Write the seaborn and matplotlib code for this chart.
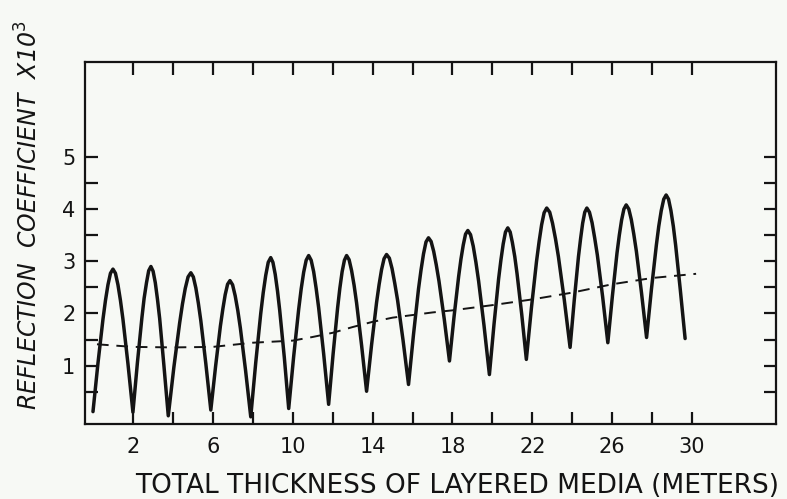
import matplotlib
matplotlib.use("Agg")
import matplotlib.pyplot as plt
import seaborn as sns
import pandas as pd

# Solid curve: reflection coefficient (x 10^3) vs total thickness (m)
thickness = [
    0.00, 0.25, 0.50, 0.625, 0.75, 0.875, 1.00, 1.125, 1.25, 1.375, 1.50, 1.75, 2.00,
    2.225, 2.45, 2.56, 2.68, 2.79, 2.90, 3.01, 3.12, 3.23, 3.34, 3.55, 3.77,
    4.05, 4.34, 4.48, 4.62, 4.76, 4.90, 5.025, 5.15, 5.275, 5.40, 5.65, 5.90,
    6.14, 6.38, 6.50, 6.62, 6.74, 6.86, 6.99, 7.12, 7.25, 7.38, 7.64, 7.90,
    8.15, 8.40, 8.525, 8.65, 8.775, 8.90, 9.01, 9.125, 9.24, 9.35, 9.58, 9.80,
    10.05, 10.30, 10.425, 10.55, 10.675, 10.80, 10.925, 11.05, 11.175, 11.30, 11.55, 11.80,
    12.025, 12.25, 12.36, 12.475, 12.59, 12.70, 12.825, 12.95, 13.075, 13.20, 13.45, 13.70,
    13.95, 14.20, 14.325, 14.45, 14.575, 14.70, 14.84, 14.975, 15.11, 15.25, 15.525, 15.80,
    16.05, 16.30, 16.425, 16.55, 16.675, 16.80, 16.93, 17.06, 17.19, 17.325, 17.59, 17.85,
    18.08, 18.31, 18.425, 18.54, 18.655, 18.77, 18.905, 19.04, 19.175, 19.31, 19.58, 19.85,
    20.08, 20.31, 20.425, 20.54, 20.655, 20.77, 20.89, 21.00, 21.12, 21.235, 21.47, 21.70,
    21.955, 22.21, 22.34, 22.465, 22.59, 22.72, 22.87, 23.01, 23.16, 23.305, 23.60, 23.89,
    24.10, 24.31, 24.415, 24.52, 24.625, 24.73, 24.86, 24.99, 25.12, 25.255, 25.52, 25.78,
    26.01, 26.24, 26.355, 26.47, 26.585, 26.70, 26.83, 26.955, 27.08, 27.21, 27.465, 27.72,
    27.965, 28.21, 28.33, 28.455, 28.58, 28.70, 28.82, 28.94, 29.06, 29.175, 29.41, 29.65]
reflection = [
    0.12, 1.05, 1.89, 2.25, 2.55, 2.77, 2.85, 2.77, 2.55, 2.25, 1.89, 1.04, 0.11,
    1.06, 1.92, 2.29, 2.59, 2.82, 2.90, 2.81, 2.59, 2.27, 1.90, 1.01, 0.04,
    0.97, 1.82, 2.18, 2.48, 2.70, 2.78, 2.70, 2.49, 2.20, 1.86, 1.04, 0.15,
    0.99, 1.76, 2.08, 2.36, 2.56, 2.63, 2.55, 2.34, 2.06, 1.72, 0.91, 0.02,
    1.06, 2.00, 2.40, 2.73, 2.98, 3.07, 2.98, 2.75, 2.43, 2.06, 1.16, 0.18,
    1.18, 2.08, 2.47, 2.79, 3.02, 3.11, 3.02, 2.80, 2.48, 2.11, 1.23, 0.26,
    1.23, 2.11, 2.48, 2.80, 3.02, 3.11, 3.03, 2.82, 2.54, 2.20, 1.39, 0.51,
    1.40, 2.21, 2.55, 2.84, 3.05, 3.13, 3.06, 2.86, 2.58, 2.26, 1.49, 0.64,
    1.60, 2.47, 2.83, 3.14, 3.37, 3.45, 3.38, 3.19, 2.93, 2.62, 1.89, 1.09,
    1.94, 2.71, 3.04, 3.31, 3.52, 3.59, 3.51, 3.29, 2.98, 2.62, 1.77, 0.83,
    1.79, 2.66, 3.02, 3.33, 3.56, 3.64, 3.56, 3.36, 3.09, 2.76, 1.98, 1.12,
    2.11, 3.00, 3.38, 3.70, 3.93, 4.02, 3.94, 3.73, 3.43, 3.09, 2.26, 1.35,
    2.26, 3.09, 3.43, 3.73, 3.94, 4.02, 3.94, 3.74, 3.45, 3.12, 2.32, 1.44,
    2.34, 3.16, 3.50, 3.79, 4.00, 4.08, 4.00, 3.80, 3.52, 3.19, 2.40, 1.54,
    2.47, 3.31, 3.67, 3.97, 4.19, 4.27, 4.19, 3.97, 3.67, 3.31, 2.45, 1.52]

# Dashed curve (average trend)
avg_thickness = [0.2, 2.0, 4.0, 6.0, 8.0, 10.0, 11.0, 12.0, 13.0, 14.0, 15.0, 17.0, 18.0,
                 20.0, 22.0, 24.0, 25.5, 26.0, 28.0, 30.2]
avg_reflection = [1.41, 1.36, 1.35, 1.36, 1.44, 1.48, 1.55, 1.63, 1.74, 1.84, 1.92, 2.02, 2.06,
                  2.16, 2.27, 2.40, 2.52, 2.56, 2.68, 2.76]

x_ticks = [2, 4, 6, 8, 10, 12, 14, 16, 18, 20, 22, 24, 26, 28, 30]
x_tick_labels = ["2", "", "6", "", "10", "", "14", "", "18", "", "22", "", "26", "", "30"]
y_major = [1, 2, 3, 4, 5]
y_labels = ["1", "2", "3", "4", "5"]
y_minor = [0.5, 1.5, 2.5, 3.5, 4.5]

sns.set_style("ticks")
plt.rcParams["font.family"] = ["DejaVu Sans"]

bg = "#f7f9f5"
ink = "#141414"
fig = plt.figure(figsize=(7.87, 4.99), dpi=100, facecolor=bg)
ax = fig.add_axes([0.108, 0.150, 0.878, 0.726], facecolor=bg)

df1 = pd.DataFrame({"t": thickness, "r": reflection})
df2 = pd.DataFrame({"t": avg_thickness, "r": avg_reflection})
sns.lineplot(data=df1, x="t", y="r", ax=ax, color=ink, lw=2.5, sort=False,
             estimator=None, solid_joinstyle="round", solid_capstyle="round")
sns.lineplot(data=df2, x="t", y="r", ax=ax, color=ink, lw=1.4, sort=False,
             estimator=None, linestyle=(0, (6, 4)))

ax.set_xlim(-0.40, 34.2)
ax.set_ylim(-0.12, 6.82)

ax.set_xticks(x_ticks)
ax.set_xticklabels(x_tick_labels)
ax.set_yticks(y_major)
ax.set_yticklabels(y_labels)
ax.set_yticks(y_minor, minor=True)

ax.tick_params(axis="x", which="both", direction="in", top=True, bottom=True,
               length=9, width=1.6, labelsize=15, pad=9, color=ink, labelcolor=ink)
ax.tick_params(axis="y", which="both", direction="in", left=True, right=True,
               length=9, width=1.6, labelsize=15, pad=7, color=ink, labelcolor=ink)

for s in ax.spines.values():
    s.set_linewidth(1.6)
    s.set_color(ink)
    s.set_visible(True)

ax.set_xlabel("TOTAL THICKNESS OF LAYERED MEDIA (METERS)", fontsize=19, color=ink)
ax.xaxis.set_label_coords(0.538, -0.135)
ax.set_ylabel("REFLECTION  COEFFICIENT  X10$^{3}$", fontsize=17, style="italic",
              color=ink)
ax.yaxis.set_label_coords(-0.062, 0.578)

fig.savefig("out.png", dpi=100, facecolor=bg)
